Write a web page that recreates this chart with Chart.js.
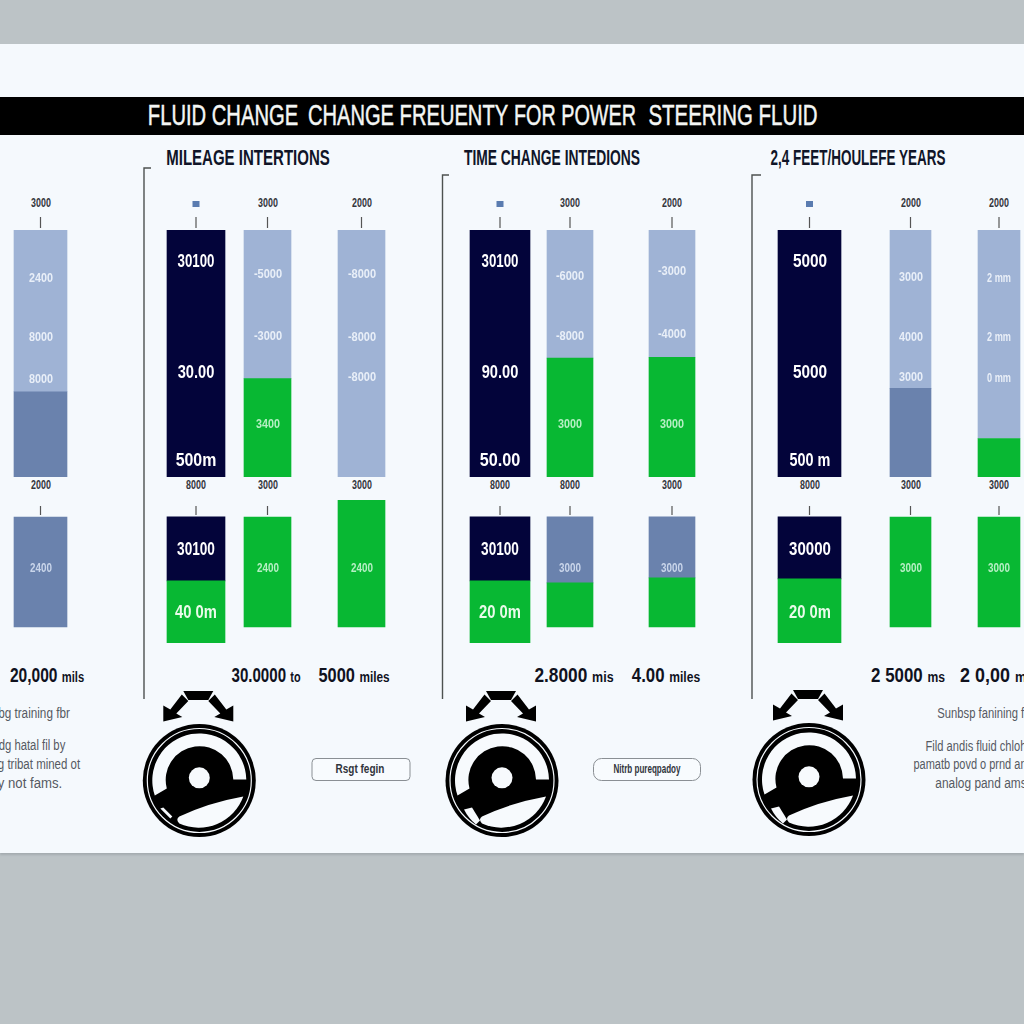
<!DOCTYPE html>
<html><head><meta charset="utf-8">
<script src="https://cdn.jsdelivr.net/npm/chart.js@4"></script>
<style>
html,body{margin:0;padding:0;width:1024px;height:1024px;overflow:hidden;background:#bcc3c6}
#stage{position:relative;width:1024px;height:1024px;overflow:hidden}
#panel{position:absolute;left:0;top:44px;width:1024px;height:809px;background:#f5f9fd;box-shadow:0 2px 2px #a4acb0}
#bar{position:absolute;left:0;top:97px;width:1024px;height:38px;background:#000}
canvas{position:absolute;left:0}
svg{position:absolute;left:0;top:0}
.t{position:absolute;white-space:pre;line-height:1;font-family:"Liberation Sans Narrow","Liberation Sans",sans-serif}
.t small{font-size:72%}
</style></head><body><div id="stage">
<div id="panel"></div><div id="bar"></div>
<svg id="art" width="1024" height="1024" xmlns="http://www.w3.org/2000/svg"></svg>
<canvas id="upper" width="1024" height="247" style="top:230px;width:1024px;height:247px"></canvas>
<canvas id="lower" width="1024" height="143" style="top:500px;width:1024px;height:143px"></canvas>
</div>
<script>
// ---- data (percent of each row's height) ----
const categories = ["A1","B1","B2","B3","C1","C2","C3","D1","D2","D3"];
const upperGreen = [0,0,39.8,0,0,48.1,48.5,0,0,15.6];
const upperSlate = [34.5,0,0,0,0,0,0,0,35.9,0];
const upperLight = [65.5,0,60.2,100,0,51.9,51.5,0,64.1,84.4];
const upperNavy  = [0,100,0,0,100,0,0,100,0,0];
const lowerBase  = [11.2,0,11.2,11.2,0,11.2,11.2,0,11.2,11.2];
const lowerGreen = [0,43.4,76.9,88.8,43.4,30.8,34.3,44.8,76.9,76.9];
const lowerSlate = [76.9,0,0,0,0,46.2,42.7,0,0,0];
const lowerNavy  = [0,44.8,0,0,44.8,0,0,43.4,0,0];
const topTickLabels   = ["3000","","3000","2000","","3000","2000","","2000","2000"];
const midTickLabels   = ["2000","8000","3000","3000","8000","8000","3000","8000","3000","3000"];
const navyUpperLabels = [["30100","30.00","500m"],["30100","90.00","50.00"],["5000","5000","500 m"]];
const navyLowerLabels = [["30100","40 0m"],["30100","20 0m"],["30000","20 0m"]];
const upperSoftLabels = {0:["2400","8000","8000"],2:["-5000","-3000","3400"],3:["-8000","-8000","-8000"],
  5:["-6000","-8000","3000"],6:["-3000","-4000","3000"],8:["3000","4000","3000"],9:["2 mm","2 mm","0 mm"]};
const lowerSoftLabels = ["2400","","2400","2400","","3000","3000","","3000","3000"];
const milesLabels = ["20,000 <small>mils</small>","30.0000 <small>to</small>","5000 <small>miles</small>","2.8000 <small>mis</small>","4.00 <small>miles</small>","2 5000 <small>ms</small>","2 0,00 <small>mi</small>"];
const headings = ["MILEAGE INTERTIONS","TIME CHANGE INTEDIONS","2,4 FEET/HOULEFE YEARS"];
const titleParts = ["FLUID CHANGE","CHANGE FREUENTY","FOR POWER","STEERING FLUID"];
const buttonLabels = ["Rsgt fegin","Nitrb pureqpadoy"];
const noteLeft  = ["bg training fbr","dg hatal fil by","g tribat mined ot","y not fams."];
const noteRight = ["Sunbsp fanining fl","Fild andis fluid chloh","pamatb povd o prnd an","analog pand ams"];

// ---- layout and style ----
const COLUMN_X = [40.5,196,267.5,361.5,500,570,672,809.5,910.5,999];
const COLUMN_W = [53,58,47,47,60,46,46,63,41,42];
const NAVY="#03043a", LIGHT="#9fb3d5", SLATE="#6a82ad", GREEN="#08b833";

function buildDatasets(series, base){
  const out=[];
  COLUMN_X.forEach((px,i)=>{
    let cum = base ? base[i] : 0;
    series.forEach(s=>{
      const v=s.values[i];
      if(v>0){
        out.push({label:s.name+" "+categories[i],data:[{x:px,y:[cum,cum+v]}],backgroundColor:s.color,
          borderWidth:0,barThickness:COLUMN_W[i],grouped:false});
        cum+=v;
      }
    });
  });
  return out;
}
function makeChart(id,series,base){
  new Chart(document.getElementById(id),{type:"bar",
    data:{datasets:buildDatasets(series,base)},
    options:{responsive:false,animation:false,devicePixelRatio:1,layout:{padding:0},
      parsing:{xAxisKey:"x",yAxisKey:"y"},
      plugins:{legend:{display:false},tooltip:{enabled:false},title:{display:false}},
      scales:{x:{type:"linear",min:0,max:1024,offset:false,display:false,stacked:false},
              y:{type:"linear",min:0,max:100,display:false,stacked:false}}}});
}
makeChart("upper",[{name:"green",values:upperGreen,color:GREEN},{name:"slate",values:upperSlate,color:SLATE},
  {name:"light",values:upperLight,color:LIGHT},{name:"navy",values:upperNavy,color:NAVY}]);
makeChart("lower",[{name:"green",values:lowerGreen,color:GREEN},{name:"slate",values:lowerSlate,color:SLATE},
  {name:"navy",values:lowerNavy,color:NAVY}],lowerBase);

// ---- text ----
const stage=document.getElementById("stage");
function put(html,cx,cy,w,size,color,weight){
  const e=document.createElement("div");e.className="t";e.innerHTML=html;
  e.style.fontSize=size+"px";e.style.color=color;e.style.fontWeight=weight||"normal";
  e.style.left=cx+"px";e.style.top=cy+"px";stage.appendChild(e);
  const k=w/e.offsetWidth;
  e.style.transform="translate(-50%,-50%) scaleX("+k.toFixed(3)+")";
  return e;
}
function putL(html,x0,x1,cy,size,color,weight){return put(html,(x0+x1)/2,cy,x1-x0,size,color,weight);}

[[148,298],[308,508],[514,636],[648,817]].forEach((r,i)=>{
  putL(titleParts[i],r[0],r[1],115,30,"#f4f6f4").style.webkitTextStroke="0.5px #f4f6f4";
});
[[166,330],[464,640],[770,945]].forEach((r,i)=>putL(headings[i],r[0],r[1],158,22,"#101528","bold"));

COLUMN_X.forEach((x,i)=>{
  if(topTickLabels[i]) put(topTickLabels[i],x,203,20,12,"#33363c","bold");
  put(midTickLabels[i],x,485,20,12,"#33363c","bold");
  if(lowerSoftLabels[i]){
    const c=lowerGreen[i]>50?"#b6efc4":"#c9d5ea";
    put(lowerSoftLabels[i],x,567,22,13,c,"bold");
  }
});
[1,4,7].forEach((c,n)=>{
  [260,371,459].forEach((y,j)=>put(navyUpperLabels[n][j],COLUMN_X[c],y,j==2?41:(c==7?34:37),19,"#fff","bold"));
  put(navyLowerLabels[n][0],COLUMN_X[c],548,c==7?42:38,19,"#fff","bold");
  put(navyLowerLabels[n][1],COLUMN_X[c],611,42,19,"#eafbea","bold");
});
const softY={0:[277,336,378],2:[273,335,423],3:[273,336,376],5:[275,335,423],6:[270,333,423],8:[276,336,376],9:[277,336,377]};
Object.keys(upperSoftLabels).forEach(k=>{
  const green=upperGreen[k]>20;
  upperSoftLabels[k].forEach((s,j)=>{
    const c=(j==2&&green)?"#b6efc4":"#e9eff8";
    put(s,COLUMN_X[k],softY[k][j],s[0]=="-"?28:24,13,c,"bold");
  });
});
[[10,84],[231,300],[318,389],[534,613],[632,700],[871,945],[960,1030]].forEach((r,i)=>putL(milesLabels[i],r[0],r[1],674,21,"#10121e","bold"));

[[-2,70,713],[-2,65,745],[-2,80,764],[-2,62,783]].forEach((r,i)=>putL(noteLeft[i],r[0],r[1],r[2],14,"#555a62"));
[[937,1026,713],[925,1026,746],[913,1026,764],[935,1026,783]].forEach((r,i)=>putL(noteRight[i],r[0],r[1],r[2],14,"#555a62"));
putL(buttonLabels[0],335,384,769,12,"#30343c","bold");
putL(buttonLabels[1],613,680,769,12,"#30343c","bold");

// ---- decoration ----
const art=document.getElementById("art");
function el(n,a){const e=document.createElementNS("http://www.w3.org/2000/svg",n);for(const k in a)e.setAttribute(k,a[k]);art.appendChild(e);return e;}
// panel axis brackets
[[144,168,151],[442.5,175,449],[752,175,761]].forEach(b=>{
  el("path",{d:`M${b[2]} ${b[1]}H${b[0]}V699`,fill:"none",stroke:"#4d5250","stroke-width":1.4});
});
// small ticks and markers
COLUMN_X.forEach((x,i)=>{
  el("line",{x1:x,x2:x,y1:217,y2:228,stroke:"#555","stroke-width":1.2});
  el("line",{x1:x,x2:x,y1:506,y2:515,stroke:"#555","stroke-width":1.2});
  if(!topTickLabels[i]) el("rect",{x:x-3.5,y:201,width:7,height:6,fill:"#5a7cb0"});
});
// buttons
el("rect",{x:312,y:758.5,width:98,height:22,rx:4,fill:"#f8fbfe",stroke:"#8a8f94","stroke-width":1});
el("rect",{x:593.5,y:758.5,width:107,height:22,rx:8,fill:"#f8fbfe",stroke:"#8a8f94","stroke-width":1});
// steering wheels
function wheel(cx,cy,big){
  const g=el("g",{transform:`translate(${cx} ${cy})`});
  const add=(n,a)=>{const e=el(n,a);g.appendChild(e);};
  add("circle",{r:56.5,fill:"#000"});
  add("circle",{r:52,fill:"none",stroke:"#f5f9fd","stroke-width":1.2});
  add("path",{d:"M-44.5 15A47 47 0 1 1 47 -1L34 -1A33.8 33.8 0 1 0 -32.5 8Z",fill:"#f7fafd"});
  add("path",{d:"M-20 36Q10 22 44 16A47.5 47.5 0 0 1 -20 43Q-24 39 -20 36Z",fill:"#f7fafd"});
  add("circle",{cy:-2.7,r:10.5,fill:"#f7fafd"});
  add("path",{d:big?"M-38 29L-30 27L-22 40L-26 44A47 47 0 0 1 -38 29Z":"M-39 28L-36 27L-27 36L-29 38Z",fill:"#f7fafd"});
  add("path",{d:"M-16 -89.5L14 -89.5L9 -80.5L-11 -80.5Z",fill:"#000"});
  add("path",{d:"M-36 -59L-36 -75L-29 -71L-17.5 -86L-11 -79.5L-23 -67L-17 -63.5Z",fill:"#000"});
  add("path",{d:"M34 -59L34 -75L27 -71L15.5 -86L9 -79.5L21 -67L15 -63.5Z",fill:"#000"});
}
wheel(199.3,780.5,false);wheel(502,780.5,true);wheel(809,779.5,true);
</script></body></html>
